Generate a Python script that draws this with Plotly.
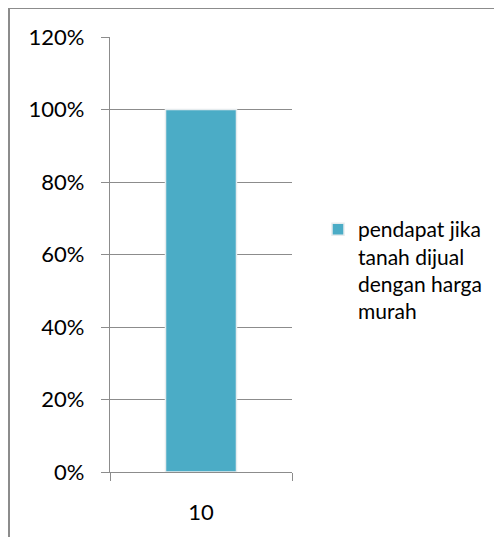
import plotly.graph_objects as go

categories = ["10"]
values = [1.0]
series_name = "pendapat jika<br>tanah dijual<br>dengan harga<br>murah"
tick_vals = [0, 0.2, 0.4, 0.6, 0.8, 1.0, 1.2]
tick_text = ["0%", "20%", "40%", "60%", "80%", "100%", "120%"]

# page has an 8px body margin, so everything is laid out 8px up/left
W, H = 502, 537
L, R, T, B = 102, 218, 29, 73
pw = W - L - R
ph = H - T - B


def px_x(p):
    return (p - L) / pw


def px_y(p):
    return (H - B - p) / ph


fig = go.Figure()
fig.add_trace(go.Bar(
    x=categories,
    y=values,
    name=series_name,
    width=0.39,
    marker=dict(color="#4BACC6", line=dict(color="#E6ECEE", width=1.5)),
))

fig.update_layout(
    width=W, height=H,
    margin=dict(l=L, r=R, t=T, b=B),
    paper_bgcolor="white",
    plot_bgcolor="white",
    font=dict(family="Lato, Noto Sans, sans-serif", size=22, color="black"),
    showlegend=True,
    legend=dict(
        x=px_x(310), y=px_y(201), xanchor="left", yanchor="top",
        font=dict(size=21), itemwidth=30, valign="top",
    ),
    xaxis=dict(
        showline=True, linecolor="#8c8c8c", linewidth=1.3,
        ticks="outside", ticklen=8, tickcolor="#8c8c8c",
        tickson="boundaries", showgrid=False, ticklabelstandoff=20,
    ),
    yaxis=dict(
        range=[0, 1.2], tickvals=tick_vals, ticktext=tick_text,
        showline=True, linecolor="#8c8c8c", linewidth=1.3,
        ticks="outside", ticklen=8, tickcolor="#8c8c8c",
        showgrid=True, gridcolor="#8c8c8c", gridwidth=1.3,
        zeroline=False, ticklabelstandoff=12,
    ),
    shapes=[dict(
        type="rect", xref="paper", yref="paper",
        x0=px_x(1), x1=px_x(520), y0=px_y(560), y1=px_y(0),
        line=dict(color="#8c8c8c", width=2), fillcolor="rgba(0,0,0,0)",
    )],
)

fig.write_html("out.html")
